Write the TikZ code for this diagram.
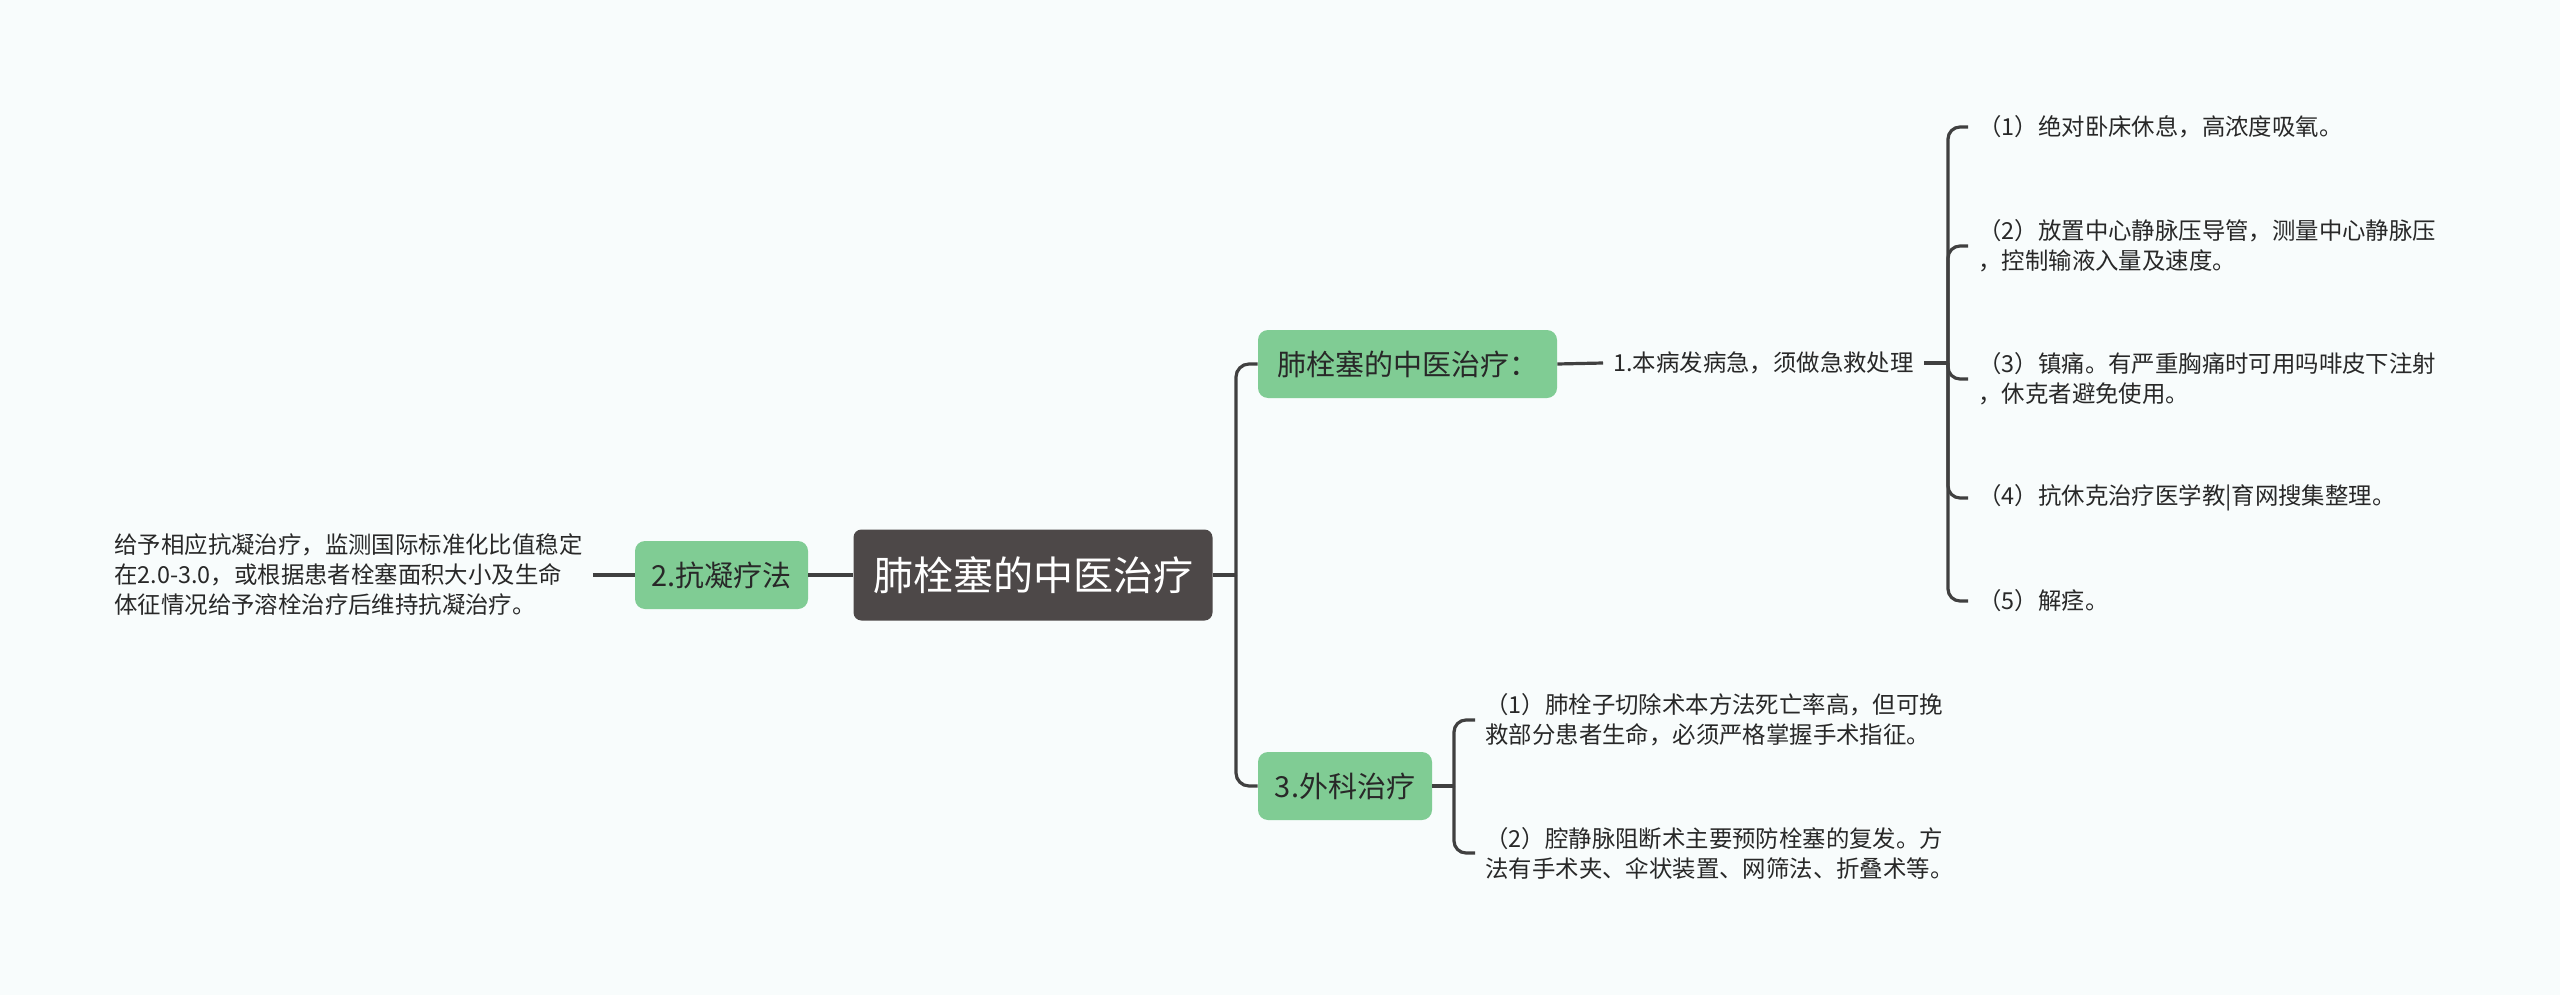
\documentclass[tikz,border=0pt]{standalone}
\usepackage{fontspec}
\setmainfont{Noto Sans CJK SC}
\usepackage{tikz}

\definecolor{bgcol}{RGB}{248,252,252}
\definecolor{rootfill}{RGB}{77,72,72}
\definecolor{leaf}{RGB}{128,204,148}
\definecolor{linkcol}{RGB}{64,64,64}
\definecolor{txt}{RGB}{40,40,40}

\begin{document}
\begin{tikzpicture}[x=0.5pt, y=-0.5pt,
    link/.style={draw=linkcol, line width=1.6pt},
    rootbox/.style={fill=rootfill, rounded corners=4pt, text=white, font=\fontsize{20}{24}\selectfont, minimum height=45.5pt, minimum width=179.5pt},
    topicbox/.style={fill=leaf, rounded corners=5pt, text=txt, font=\fontsize{14.5}{17}\selectfont, minimum height=34pt, inner xsep=8pt},
    note/.style={text=txt, font=\fontsize{11.7}{15}\selectfont, align=left, inner xsep=5pt, inner ysep=2pt, anchor=west}]
    \fill[bgcol] (0,0) rectangle (2560,995);
    \useasboundingbox (0,0) rectangle (2560,995);

    % centre and main branches
    \node[rootbox] (root) at (1033,575) {肺栓塞的中医治疗};
    \node[topicbox, minimum width=149.5pt] (tcm) at (1407.5,364) {肺栓塞的中医治疗：};
    \node[topicbox, minimum width=86.5pt] (anti) at (721.5,575) {2.抗凝疗法};
    \node[topicbox, minimum width=87pt] (surg) at (1345,786) {3.外科治疗};

    % texts
    \node[note] (antitxt) at (104,575) {给予相应抗凝治疗，监测国际标准化比值稳定\\在2.0-3.0，或根据患者栓塞面积大小及生命\\体征情况给予溶栓治疗后维持抗凝治疗。};
    \node[note] (first) at (1603,363) {1.本病发病急，须做急救处理};
    \node[note] (s1) at (1968,127) {（1）绝对卧床休息，高浓度吸氧。};
    \node[note] (s2) at (1968,246) {（2）放置中心静脉压导管，测量中心静脉压\\，控制输液入量及速度。};
    \node[note] (s3) at (1968,379) {（3）镇痛。有严重胸痛时可用吗啡皮下注射\\，休克者避免使用。};
    \node[note] (s4) at (1968,498) {（4）抗休克治疗医学教|育网搜集整理。};
    \node[note] (s5) at (1968,601) {（5）解痉。};
    \node[note] (o1) at (1475,720) {（1）肺栓子切除术本方法死亡率高，但可挽\\救部分患者生命，必须严格掌握手术指征。};
    \node[note] (o2) at (1475,853) {（2）腔静脉阻断术主要预防栓塞的复发。方\\法有手术夹、伞状装置、网筛法、折叠术等。};

    % junctions
    \coordinate (rj) at (1236,575);
    \coordinate (fj) at (1948,363);
    \coordinate (sj) at (1454,786);

    % connectors
    \draw[link] (anti.east) -- (root.west);
    \draw[link] (antitxt.east) -- (anti.west);
    \draw[link] (root.east) -- (rj);
    \draw[link, rounded corners=6.5pt] (rj) |- (tcm.west);
    \draw[link, rounded corners=6.5pt] (rj) |- (surg.west);
    \draw[link] (tcm.east) -- (first.west);
    \draw[link] (first.east) -- (fj);
    \foreach \k in {s1,s2,s3,s4,s5}
        \draw[link, rounded corners=6pt] (fj) |- (\k.west);
    \draw[link] (surg.east) -- (sj);
    \foreach \k in {o1,o2}
        \draw[link, rounded corners=6pt] (sj) |- (\k.west);
\end{tikzpicture}
\end{document}
